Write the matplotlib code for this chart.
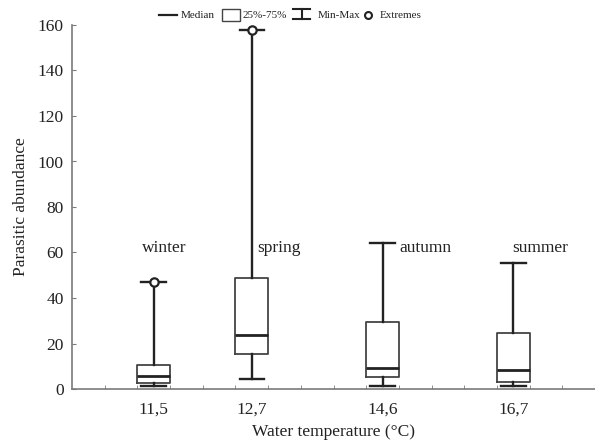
import matplotlib
matplotlib.use("Agg")
import matplotlib.pyplot as plt
from matplotlib.lines import Line2D
from matplotlib.patches import Rectangle

plt.rcParams["font.family"] = ["Liberation Serif", "DejaVu Serif"]

# data
seasons = ["winter", "spring", "autumn", "summer"]
temps = ["11,5", "12,7", "14,6", "16,7"]
v_min = [1.5, 4.4, 1.5, 1.5]
v_q1 = [2.5, 15.4, 5.3, 3.2]
v_med = [5.7, 23.9, 9.1, 8.4]
v_q3 = [10.5, 49.0, 29.6, 24.5]
v_max = [47.0, 158.0, 64.0, 55.5]
extremes = [[47.0], [158.0], [], []]

# layout
pos = [2.5, 5.5, 9.5, 13.5]
label_x = [2.15, 5.67, 10.0, 13.47]
label_y = 60
ink = "#222222"
gray = "#7a7a7a"

fig = plt.figure(figsize=(5.95, 4.45), dpi=100)
ax = fig.add_axes([72/595, 56/445, 1 - 72/595, (389-25)/445])

stats = []
for i in range(len(seasons)):
    stats.append(dict(whislo=v_min[i], q1=v_q1[i], med=v_med[i], q3=v_q3[i],
                      whishi=v_max[i], fliers=extremes[i]))

ax.bxp(stats, positions=pos, widths=1.0, capwidths=0.75, showfliers=True,
       boxprops=dict(color="#444444", lw=1.3),
       medianprops=dict(color=ink, lw=2.0),
       whiskerprops=dict(color=ink, lw=1.7),
       capprops=dict(color=ink, lw=1.7),
       flierprops=dict(marker="o", mfc="white", mec=ink, ms=6, mew=1.6))

for s, x in zip(seasons, label_x):
    ax.text(x, label_y, s, fontsize=12.5, color=ink, ha="left", va="baseline")

ax.set_xlim(0, 16)
ax.set_ylim(0, 160)
ax.set_yticks(range(0, 161, 20))
ax.set_xticks(pos)
ax.set_xticklabels(temps)
ax.set_xticks(range(1, 16), minor=True)
ax.tick_params(axis="x", which="major", length=0, pad=9, labelsize=12.5, labelcolor=ink)
ax.tick_params(axis="x", which="minor", length=3, direction="in", color=gray)
ax.tick_params(axis="y", length=3, direction="in", color=gray, pad=6,
               labelsize=12.5, labelcolor=ink)

for side in ["top", "right"]:
    ax.spines[side].set_visible(False)
for side in ["left", "bottom"]:
    ax.spines[side].set_color(gray)
    ax.spines[side].set_linewidth(1.2)

ax.set_xlabel("Water temperature (°C)", fontsize=12.5, color=ink)
ax.set_ylabel("Parasitic abundance", fontsize=12.5, color=ink)
ax.xaxis.set_label_coords(0.5, -0.097)
ax.yaxis.set_label_coords(-0.082, 0.5)

# legend strip at the top, in pixel coords
def px(x, y):
    return x / 595, 1 - y / 445

tf = fig.transFigure
ly = 15
fig.add_artist(Line2D([px(159, 0)[0], px(177, 0)[0]], [px(0, ly)[1]] * 2,
                      color=ink, lw=1.6, transform=tf))
fig.text(*px(181, ly), "Median", fontsize=8, color=ink, va="center", ha="left")
x0, y0 = px(222, 21)
x1, y1 = px(240, 9)
fig.add_artist(Rectangle((x0, y0), x1 - x0, y1 - y0, fc="white", ec="#444444",
                         lw=1.0, transform=tf))
fig.text(*px(243, ly), "25%-75%", fontsize=8, color=ink, va="center", ha="left")
cx = 301.5
fig.add_artist(Line2D([px(cx, 0)[0]] * 2, [px(0, 9)[1], px(0, 19)[1]],
                      color=ink, lw=1.5, transform=tf))
for yy in (9, 19):
    fig.add_artist(Line2D([px(293, 0)[0], px(310, 0)[0]], [px(0, yy)[1]] * 2,
                          color=ink, lw=1.5, transform=tf))
fig.text(*px(318, ly), "Min-Max", fontsize=8, color=ink, va="center", ha="left")
fig.add_artist(Line2D([px(368, 0)[0]], [px(0, ly)[1]], marker="o", mfc="white",
                      mec=ink, ms=5, mew=1.5, transform=tf))
fig.text(*px(380, ly), "Extremes", fontsize=8, color=ink, va="center", ha="left")

fig.savefig("out.png", dpi=100)
